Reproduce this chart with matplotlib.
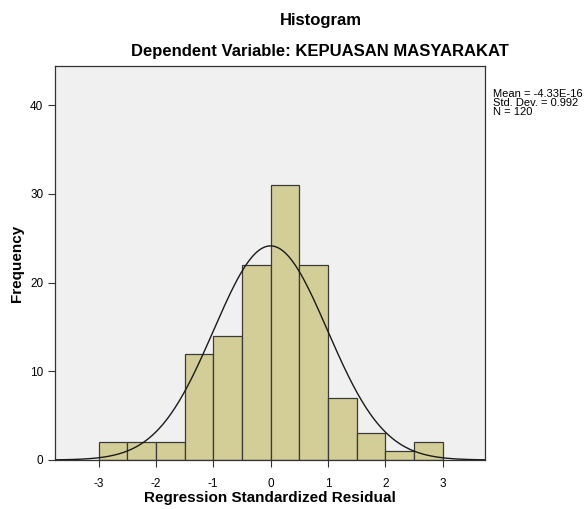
import numpy as np
import matplotlib.pyplot as plt

plt.rcParams['font.family'] = ['Liberation Sans', 'DejaVu Sans']

# histogram bins (width 0.5) and counts
bin_edges = [-3.0, -2.5, -2.0, -1.5, -1.0, -0.5, 0.0, 0.5, 1.0, 1.5, 2.0, 2.5, 3.0]
counts = [2, 2, 2, 12, 14, 22, 31, 22, 7, 3, 1, 2]
x_ticks = [-3, -2, -1, 0, 1, 2, 3]
y_ticks = [0, 10, 20, 30, 40]
mean = -4.33e-16
std = 0.992
n = 120

fig = plt.figure(figsize=(5.85, 5.09), dpi=100)
ax = fig.add_axes([0.094, 0.0963, 0.735, 0.774])
ax.set_facecolor('#f0f0f0')

lefts = bin_edges[:-1]
widths = np.diff(bin_edges)
ax.bar(lefts, counts, width=widths, align='edge', color='#d3ce97',
       edgecolor='#3a3a3a', linewidth=0.9, zorder=2)

# normal curve scaled to counts
xs = np.linspace(-3.76, 3.76, 400)
bw = widths[0]
ys = n * bw / (std * np.sqrt(2 * np.pi)) * np.exp(-0.5 * ((xs - mean) / std) ** 2)
ax.plot(xs, ys, color='#1a1a1a', linewidth=1.0, zorder=3)

ax.set_xlim(-3.76, 3.74)
ax.set_ylim(0, 44.4)
ax.set_xticks(x_ticks)
ax.set_xticklabels([str(t) for t in x_ticks])
ax.set_yticks(y_ticks)
ax.tick_params(axis='both', labelsize=8.5, length=5, width=0.8, color='#333333')
ax.tick_params(axis='x', pad=8)
for s in ax.spines.values():
    s.set_color('#333333')
    s.set_linewidth(0.9)

ax.set_xlabel('Regression Standardized Residual', fontsize=11, fontweight='bold', labelpad=1)
ax.set_ylabel('Frequency', fontsize=11, fontweight='bold', labelpad=4)

fig.text(0.549, 0.959, 'Histogram', ha='center', va='center', fontsize=12, fontweight='bold')
fig.text(0.547, 0.898, 'Dependent Variable: KEPUASAN MASYARAKAT', ha='center', va='center',
         fontsize=12, fontweight='bold')

fig.text(0.843, 0.7976, 'Mean = -4.33E-16\nStd. Dev. = 0.992\nN = 120', ha='left', va='center',
         fontsize=8, linespacing=0.92)

fig.savefig('out.png', dpi=100)
